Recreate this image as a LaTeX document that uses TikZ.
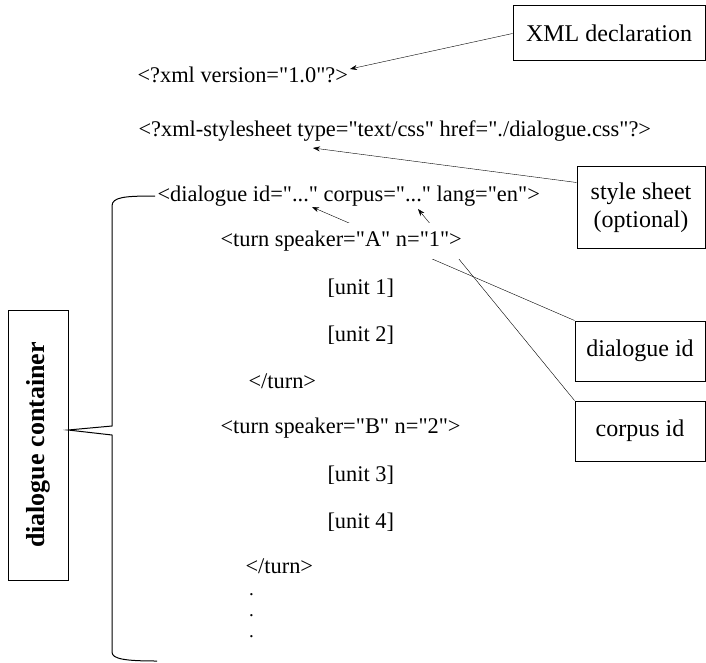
\documentclass[tikz,border=0pt]{standalone}
\usepackage{fontspec}
\setmainfont{Liberation Serif}[Ligatures = TeXOff]
\usetikzlibrary{backgrounds, arrows.meta}
\begin{document}
\begin{tikzpicture}[x = 1pt, y = -1pt, line width = 1pt,
    code/.style = {anchor = west, inner sep = 0pt, font = \fontsize{22.4}{26}\selectfont},
    callout/.style = {draw, align = center, inner sep = 0pt, font = \fontsize{24}{28}\selectfont},
    pointer/.style = {-{Stealth[length = 7pt, width = 5pt]}}]
    \useasboundingbox (0, 0) rectangle (706, 663);

    % the xml listing
    \node [code] (decl) at (137, 75) {<?xml version="1.0"?>};
    \node [code] (sheet) at (138, 131) {<?xml-stylesheet type="text/css" href="./dialogue.css"?>};
    \node [code] (dlg) at (157, 196) {<dialogue id="..." corpus="..." lang="en">};
    \node [code, fill = white, inner xsep = 7pt, inner ysep = 8pt] (turnA) at (213, 241) {<turn speaker="A" n="1">};
    \node [code] (unitA) at (327, 288) {[unit 1]};
    \node [code] (unitB) at (327, 335) {[unit 2]};
    \node [code] (endA) at (248, 381) {</turn>};
    \node [code] (turnB) at (220, 428) {<turn speaker="B" n="2">};
    \node [code] (unitC) at (327, 475) {[unit 3]};
    \node [code] (unitD) at (327, 522) {[unit 4]};
    \node [code] (endB) at (245, 566) {</turn>};
    \node [code, align = left, font = \fontsize{19}{21}\selectfont] (dots) at (248.5, 616) {.\\.\\.};

    % callouts on the right
    \node [callout, minimum width = 192, minimum height = 55] (declbox) at (609, 33.5) {XML declaration};
    \node [callout, minimum width = 128, minimum height = 81] (sheetbox) at (641, 207.5) {style sheet\\(optional)};
    \node [callout, minimum width = 130, minimum height = 60] (idbox) at (640, 351) {dialogue id};
    \node [callout, minimum width = 130, minimum height = 60] (corpusbox) at (640, 431) {corpus id};
    \node [callout, rotate = 90, minimum width = 270, minimum height = 60, font = \fontsize{26}{30}\selectfont\bfseries] (container) at (38, 445) {dialogue container};

    \coordinate (declend) at (350, 69);
    \coordinate (sheetend) at (313, 148);
    \coordinate (idval) at (312, 207);
    \coordinate (corpusval) at (418, 209);
    \coordinate (tip) at (68, 430);
    \coordinate (bottom) at (157, 661);

    \begin{scope}[on background layer]
        \draw [pointer] (declbox.west) -- (declend);
        \draw [pointer] ([yshift = -16pt]sheetbox.north west) -- (sheetend);
        \draw [pointer] (idbox.north west) -- (idval);
        \draw [pointer] (corpusbox.north west) -- (corpusval);
    \end{scope}

    % brace round the dialogue
    \draw ([xshift = -2pt]dlg.west) .. controls (125, 196) and (112, 197) .. (112, 206)
        -- (112, 426) -- (tip) -- (112, 435)
        -- (112, 652) .. controls (112, 659) and (125, 661) .. (bottom);
\end{tikzpicture}
\end{document}
